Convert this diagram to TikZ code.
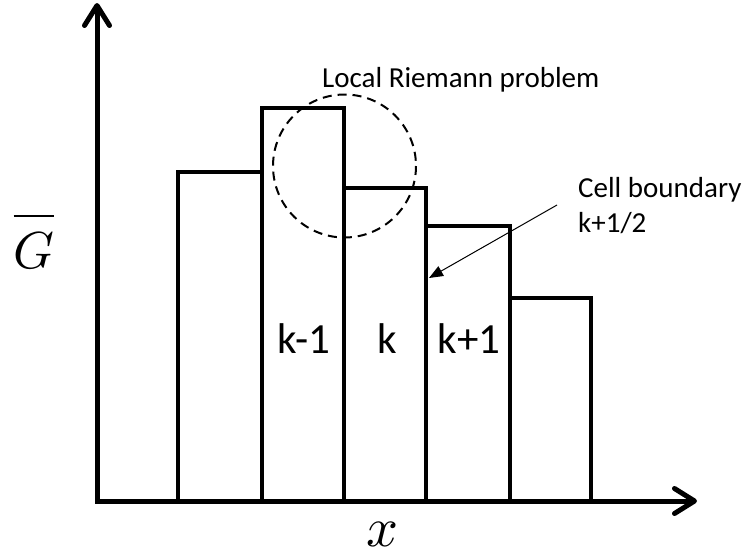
\documentclass[tikz,border=0pt]{standalone}
\usepackage{fontspec}
\usepackage{unicode-math}
\setmainfont{Carlito}
\setmathfont{Latin Modern Math}
\usetikzlibrary{arrows.meta}
\begin{document}
\begin{tikzpicture}[x=1pt,y=-1pt,
  axis/.style={line width=5pt, line join=miter,
    {Straight Barb[length=20pt,width=25pt,line cap=round,line join=round]}-{Straight Barb[length=20pt,width=25pt,line cap=round,line join=round]}},
  bar/.style={line width=3.2pt, line join=miter},
  ring/.style={line width=2pt, dash pattern=on 9pt off 6pt},
  pointer/.style={line width=1pt, -{Triangle[length=14pt,width=11pt]}},
  celllabel/.style={font=\fontsize{43}{48}\selectfont, anchor=base, inner sep=0pt},
  note/.style={font=\fontsize{29}{34}\selectfont, anchor=base west, inner sep=0pt},
]
\useasboundingbox (0,0) rectangle (745,558);
% bars
\draw[bar] (178,501) rectangle (262,172);
\draw[bar] (262,501) rectangle (344,108);
\draw[bar] (344,501) rectangle (426,188);
\draw[bar] (426,501) rectangle (510,226);
\draw[bar] (510,501) rectangle (591,298);
% axes
\coordinate (ytop) at (97,3);
\coordinate (origin) at (97,501);
\coordinate (xend) at (697,501);
\draw[axis] (ytop) -- (origin) -- (xend);
% local Riemann problem circle
\draw[ring] (344.5,166) circle[radius=71.5];
% labels
\node[note] (lrp) at (322,87) {Local Riemann problem};
\node[note] (cb1) at (578,197) {Cell boundary};
\node[note] (cb2) at (578,232) {k+1/2};
\coordinate (cbtail) at (557,205);
\coordinate (cbtip) at (429,278);
\draw[pointer] (cbtail) -- (cbtip);
\node[celllabel] (km) at (304,353) {k-1};
\node[celllabel] (k) at (387,353) {k};
\node[celllabel] (kp) at (469,353) {k+1};
\node[anchor=base, inner sep=0pt, font=\fontsize{52}{58}\selectfont] (gbar) at (34,268) {$\overline{\vrule height 45pt width 0pt G}$};
\node[anchor=base, inner sep=0pt, font=\fontsize{56}{60}\selectfont] (xl) at (383,546) {$x$};
\end{tikzpicture}
\end{document}
